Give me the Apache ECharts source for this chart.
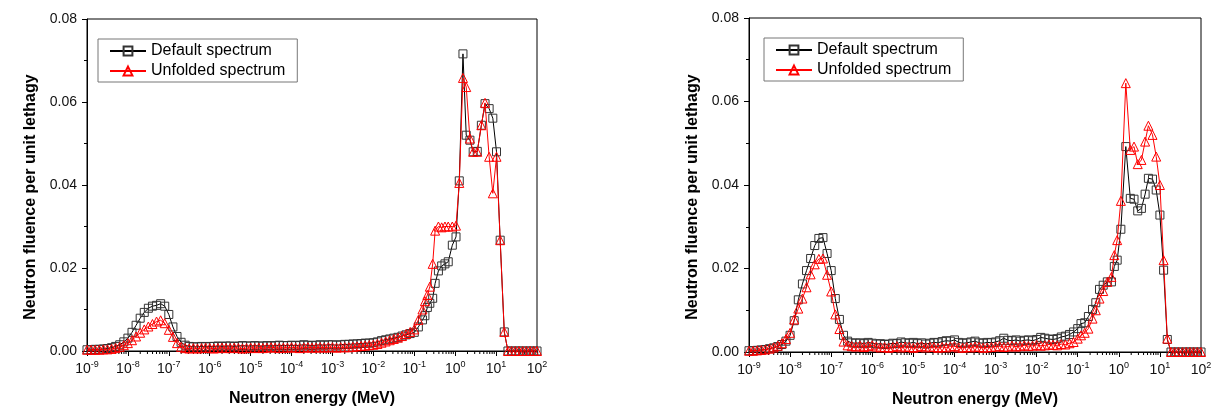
<!DOCTYPE html>
<html>
<head>
<meta charset="utf-8">
<script src="https://cdn.jsdelivr.net/npm/echarts@6/dist/echarts.min.js"></script>
<style>html,body{margin:0;padding:0;background:#fff}#c{width:1216px;height:415px}</style>
</head>
<body>
<div id="c"></div>
<script>
// ---------- DATA (log10 of energy in MeV, fluence per unit lethargy) ----------
const logE_low = [-9.0,-8.9,-8.8,-8.7,-8.6,-8.5,-8.4,-8.3,-8.2,-8.1,
 -8.0,-7.9,-7.8,-7.7,-7.6,-7.5,-7.4,-7.3,-7.2,-7.1,
 -7.0,-6.9,-6.8,-6.7,-6.6,-6.5,-6.4,-6.3,-6.2,-6.1,
 -6.0,-5.9,-5.8,-5.7,-5.6,-5.5,-5.4,-5.3,-5.2,-5.1,
 -5.0,-4.9,-4.8,-4.7,-4.6,-4.5,-4.4,-4.3,-4.2,-4.1,
 -4.0,-3.9,-3.8,-3.7,-3.6,-3.5,-3.4,-3.3,-3.2,-3.1,
 -3.0,-2.9,-2.8,-2.7,-2.6,-2.5,-2.4,-2.3,-2.2,-2.1,
 -2.0,-1.9,-1.8,-1.7,-1.6,-1.5,-1.4,-1.3,-1.2,-1.1];

// Left panel
const logE_fastL = [-1.0,-0.9,-0.8,-0.74,-0.68,-0.62,-0.55,-0.49,-0.41,-0.33,-0.25,-0.17,-0.07,0.02,0.10,0.19,0.27,0.36,0.44,0.54,0.64,0.73,0.83,0.92,1.01,1.10,1.20,1.29,1.38,1.47,1.56,1.65,1.74,1.83,1.92,2.0];
const defaultL_low = [0.0003,0.0003,0.0004,0.0004,0.0005,0.0006,0.0008,0.0011,0.0015,0.0022,
 0.0031,0.0045,0.0062,0.0079,0.0093,0.0103,0.0108,0.0110,0.0114,0.0108,
 0.0088,0.0058,0.0035,0.0021,0.0014,0.0011,0.0010,0.0010,0.0011,0.0010,
 0.0011,0.0011,0.0012,0.0011,0.0012,0.0012,0.0011,0.0012,0.0013,0.0012,
 0.0012,0.0013,0.0012,0.0012,0.0013,0.0012,0.0013,0.0014,0.0013,0.0013,
 0.0014,0.0013,0.0014,0.0015,0.0014,0.0013,0.0014,0.0015,0.0014,0.0015,
 0.0015,0.0014,0.0015,0.0016,0.0016,0.0017,0.0017,0.0018,0.0019,0.0019,
 0.0020,0.0022,0.0025,0.0027,0.0029,0.0031,0.0033,0.0036,0.0039,0.0042];
const defaultL_fast = [0.0045,0.0058,0.0075,0.0085,0.0105,0.0115,0.0127,0.0163,0.0193,0.0205,0.0210,0.0215,0.0255,0.0275,0.0410,0.0716,0.0520,0.0508,0.0480,0.0481,0.0544,0.0596,0.0584,0.0561,0.0480,0.0267,0.0046,0,0,0,0,0,0,0,0,0];
const unfoldedL_low = [0.0003,0.0003,0.0003,0.0003,0.0004,0.0004,0.0005,0.0007,0.0010,0.0014,
 0.0019,0.0026,0.0035,0.0044,0.0052,0.0059,0.0065,0.0071,0.0074,0.0067,
 0.0051,0.0034,0.0019,0.0010,0.0007,0.0006,0.0007,0.0006,0.0007,0.0008,
 0.0007,0.0006,0.0007,0.0008,0.0007,0.0007,0.0008,0.0007,0.0006,0.0007,
 0.0008,0.0007,0.0008,0.0007,0.0008,0.0009,0.0008,0.0007,0.0008,0.0008,
 0.0009,0.0008,0.0007,0.0008,0.0009,0.0008,0.0008,0.0009,0.0008,0.0009,
 0.0009,0.0008,0.0009,0.0009,0.0009,0.0010,0.0011,0.0012,0.0013,0.0014,
 0.0015,0.0017,0.0020,0.0023,0.0026,0.0029,0.0032,0.0036,0.0041,0.0046];
const unfoldedL_fast = [0.0052,0.0075,0.0100,0.0120,0.0135,0.0155,0.0210,0.0290,0.0300,0.0298,0.0300,0.0300,0.0300,0.0302,0.0405,0.0658,0.0636,0.0512,0.0480,0.0480,0.0544,0.0598,0.0468,0.0380,0.0468,0.0267,0.0046,0,0,0,0,0,0,0,0,0];

// Right panel
const logE_fastR = [-1.0,-0.92,-0.83,-0.74,-0.64,-0.56,-0.47,-0.38,-0.28,-0.18,-0.11,-0.04,0.05,0.17,0.28,0.37,0.46,0.55,0.64,0.72,0.82,0.91,1.0,1.09,1.18,1.27,1.36,1.45,1.55,1.64,1.73,1.82,1.91,2.0];
const defaultR_low = [0.0003,0.0003,0.0004,0.0005,0.0006,0.0008,0.0010,0.0013,0.0018,0.0026,
 0.0040,0.0075,0.0125,0.0163,0.0195,0.0224,0.0255,0.0272,0.0274,0.0236,
 0.0195,0.0128,0.0078,0.0040,0.0026,0.0022,0.0021,0.0022,0.0020,0.0023,
 0.0021,0.0019,0.0020,0.0018,0.0019,0.0021,0.0020,0.0024,0.0022,0.0021,
 0.0023,0.0020,0.0022,0.0019,0.0021,0.0023,0.0022,0.0025,0.0027,0.0026,
 0.0029,0.0023,0.0021,0.0022,0.0024,0.0026,0.0022,0.0021,0.0023,0.0022,
 0.0024,0.0027,0.0033,0.0028,0.0027,0.0029,0.0026,0.0028,0.0029,0.0027,
 0.0030,0.0035,0.0033,0.0031,0.0030,0.0032,0.0036,0.0038,0.0042,0.0048];
const defaultR_fast = [0.0056,0.0068,0.0070,0.0085,0.0102,0.0118,0.0150,0.0160,0.0168,0.0168,0.0205,0.0220,0.0294,0.0492,0.0368,0.0366,0.0338,0.0344,0.0378,0.0416,0.0414,0.0388,0.0328,0.0196,0.0030,0,0,0,0,0,0,0,0,0];
const unfoldedR_low = [0.0003,0.0003,0.0004,0.0005,0.0006,0.0008,0.0011,0.0015,0.0021,0.0031,
 0.0046,0.0078,0.0104,0.0128,0.0155,0.0186,0.0210,0.0223,0.0224,0.0185,
 0.0145,0.0090,0.0055,0.0025,0.0016,0.0014,0.0013,0.0015,0.0012,0.0014,
 0.0016,0.0013,0.0011,0.0012,0.0010,0.0012,0.0014,0.0011,0.0013,0.0012,
 0.0010,0.0012,0.0014,0.0011,0.0013,0.0012,0.0010,0.0012,0.0011,0.0013,
 0.0014,0.0011,0.0010,0.0012,0.0011,0.0013,0.0012,0.0010,0.0011,0.0012,
 0.0013,0.0014,0.0012,0.0013,0.0015,0.0013,0.0014,0.0016,0.0014,0.0015,
 0.0017,0.0015,0.0016,0.0018,0.0017,0.0016,0.0019,0.0018,0.0021,0.0024];
const unfoldedR_fast = [0.0032,0.0040,0.0046,0.0056,0.0080,0.0100,0.0128,0.0146,0.0168,0.0180,0.0232,0.0268,0.0362,0.0644,0.0484,0.0492,0.0450,0.0460,0.0504,0.0542,0.0520,0.0468,0.0400,0.0220,0.0032,0,0,0,0,0,0,0,0,0];

const seriesNames = ['Default spectrum', 'Unfolded spectrum'];
const xMin = 1e-9, xMax = 1e2;
const yTicks = [0, 0.02, 0.04, 0.06, 0.08];
const minorMultipliers = [2,3,4,5,6,7,8,9];
const decades = [-9,-8,-7,-6,-5,-4,-3,-2,-1,0,1];

// ---------- BUILD ----------
function pairs(logs, vals) { return logs.map((l, i) => [Math.pow(10, l), vals[i]]); }
const minorE = [];
decades.forEach(d => minorMultipliers.forEach(m => minorE.push([m * Math.pow(10, d), 0])));

const FONT = '"Liberation Sans", Arial, Helvetica, sans-serif';

function xAxis(grid) {
  return {
    type: 'log', logBase: 10, gridIndex: grid, min: xMin, max: xMax, interval: 1,
    name: 'Neutron energy (MeV)', nameLocation: 'middle', nameGap: 40,
    nameTextStyle: { fontFamily: FONT, fontSize: 16, fontWeight: 'bold', color: '#000' },
    axisLine: { show: true, onZero: false, lineStyle: { color: '#000', width: 1 } },
    axisTick: { show: true, inside: false, length: 5, lineStyle: { color: '#000' } },
    minorTick: { show: false },
    splitLine: { show: false },
    axisLabel: {
      margin: 9, color: '#000', fontFamily: FONT,
      formatter: v => '{b|10}{s|' + Math.round(Math.log10(v)) + '}',
      rich: {
        b: { fontSize: 14, fontFamily: FONT, color: '#111' },
        s: { fontSize: 9, fontFamily: FONT, color: '#111', padding: [0, 0, 9, 0] }
      }
    }
  };
}
function yAxis(grid) {
  return {
    type: 'value', gridIndex: grid, min: yTicks[0], max: yTicks[yTicks.length - 1], interval: 0.02,
    name: 'Neutron fluence per unit lethagy', nameLocation: 'middle', nameGap: 48,
    nameTextStyle: { fontFamily: FONT, fontSize: 16, fontWeight: 'bold', color: '#000', padding: [0, 24, 0, 0] },
    axisLine: { show: true, onZero: false, lineStyle: { color: '#000', width: 1 } },
    axisTick: { show: true, inside: false, length: 5, lineStyle: { color: '#000' } },
    minorTick: { show: true, splitNumber: 2, length: 3, lineStyle: { color: '#000' } },
    splitLine: { show: false },
    axisLabel: { margin: 10, color: '#111', fontFamily: FONT, fontSize: 14, formatter: v => v.toFixed(2) }
  };
}
function lineSeries(name, grid, data, isDefault) {
  return {
    type: 'line', name: name, xAxisIndex: grid, yAxisIndex: grid, data: data,
    symbol: isDefault ? 'rect' : 'triangle', symbolSize: isDefault ? 8 : 9,
    showSymbol: true, animation: false, z: isDefault ? 2 : 3,
    lineStyle: { color: isDefault ? '#000' : '#f00', width: 1 },
    itemStyle: { color: 'rgba(255,255,255,0)', borderColor: isDefault ? '#333' : '#f00', borderWidth: 1 },
    emphasis: { disabled: true }
  };
}
function minorTickSeries(grid) {
  return {
    type: 'custom', xAxisIndex: grid, yAxisIndex: grid, data: minorE, silent: true, clip: false, z: 1,
    animation: false,
    renderItem: (p, api) => {
      const c = api.coord([api.value(0), 0]);
      return { type: 'line', shape: { x1: c[0], y1: c[1], x2: c[0], y2: c[1] + 3 }, style: { stroke: '#000', lineWidth: 1 } };
    }
  };
}
function legend(left, top) {
  return {
    data: seriesNames, orient: 'vertical', left: left, top: top,
    itemWidth: 36, itemHeight: 11, itemGap: 4,
    borderColor: '#777', borderWidth: 1, padding: [4, 12, 3, 11],
    textStyle: { fontFamily: FONT, fontSize: 16, color: '#000', lineHeight: 16 },
    selectedMode: false
  };
}

const chart = echarts.init(document.getElementById('c'), null, { renderer: 'canvas' });
chart.setOption({
  backgroundColor: '#fff',
  animation: false,
  grid: [
    { left: 87, right: 679, top: 19, bottom: 64, show: true, borderColor: '#000', borderWidth: 1, backgroundColor: 'transparent' },
    { left: 749, right: 15, top: 18, bottom: 63, show: true, borderColor: '#000', borderWidth: 1, backgroundColor: 'transparent' }
  ],
  xAxis: [xAxis(0), xAxis(1)],
  yAxis: [yAxis(0), yAxis(1)],
  legend: [legend(98, 39), legend(764, 38)],
  series: [
    lineSeries(seriesNames[0], 0, pairs(logE_low.concat(logE_fastL), defaultL_low.concat(defaultL_fast)), true),
    lineSeries(seriesNames[1], 0, pairs(logE_low.concat(logE_fastL), unfoldedL_low.concat(unfoldedL_fast)), false),
    lineSeries(seriesNames[0], 1, pairs(logE_low.concat(logE_fastR), defaultR_low.concat(defaultR_fast)), true),
    lineSeries(seriesNames[1], 1, pairs(logE_low.concat(logE_fastR), unfoldedR_low.concat(unfoldedR_fast)), false),
    minorTickSeries(0),
    minorTickSeries(1)
  ]
});
</script>
</body>
</html>
